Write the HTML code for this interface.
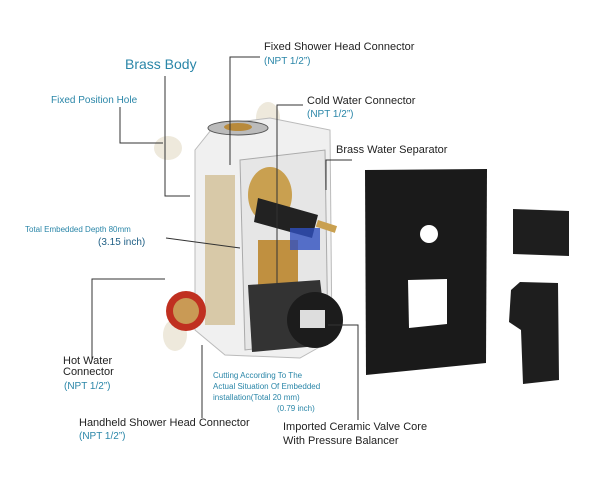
<!DOCTYPE html><html><head><style>body{margin:0;background:#fff}svg{display:block}text{font-family:"Liberation Sans",sans-serif}</style></head><body>
<svg width="612" height="480" viewBox="0 0 612 480" xmlns="http://www.w3.org/2000/svg">
<!-- plastic feet -->
<ellipse cx="168" cy="148" rx="14" ry="12" fill="#eee9dc"/>
<ellipse cx="268" cy="118" rx="12" ry="16" fill="#eee9dc"/>
<ellipse cx="175" cy="335" rx="12" ry="16" fill="#eee9dc"/>
<!-- body -->
<path d="M195 150 L215 125 L270 118 L330 130 L332 340 L300 358 L225 355 L195 330 Z" fill="#f0f0f0" stroke="#bbb"/>
<path d="M240 160 L325 150 L328 340 L245 350 Z" fill="#e6e6e6" stroke="#aaa"/>
<rect x="205" y="175" width="30" height="150" fill="#d8c9a8"/>
<ellipse cx="238" cy="128" rx="30" ry="7" fill="#bbb" stroke="#555"/>
<ellipse cx="238" cy="127" rx="14" ry="4" fill="#b88a3c"/>
<ellipse cx="270" cy="195" rx="22" ry="28" fill="#c9a050"/>
<path d="M258 198 L318 215 L312 238 L254 222 Z" fill="#222"/>
<rect x="318" y="220" width="20" height="7" fill="#c9a050" transform="rotate(18 318 220)"/>
<rect x="258" y="240" width="40" height="60" fill="#c09040"/>
<rect x="290" y="228" width="30" height="22" fill="#3050c0" opacity=".8"/>
<circle cx="186" cy="311" r="20" fill="#c03020"/>
<circle cx="186" cy="311" r="13" fill="#c99a55"/>
<path d="M248 285 L320 280 L328 345 L252 352 Z" fill="#333"/>
<circle cx="315" cy="320" r="28" fill="#1c1c1c"/>
<rect x="300" y="310" width="25" height="18" fill="#ddd"/>
<!-- plate -->
<path d="M365 170 L487 169 L486 363 L366 375 Z" fill="#1a1a1a"/>
<circle cx="429" cy="234" r="9" fill="#fff"/>
<path d="M408 280 L447 279 L447 324 L409 328 Z" fill="#fff"/>
<path d="M513 209 L569 211 L569 256 L513 254 Z" fill="#1e1e1e" rx="4"/>
<path d="M511 290 L520 282 L558 283 L559 380 L523 384 L521 330 L509 322 Z" fill="#1e1e1e"/>
<!-- leader lines -->
<g stroke="#333" stroke-width="1" fill="none">
<path d="M260 57 H230 V165"/>
<path d="M165 76 V196 H190"/>
<path d="M120 107 V143 H163"/>
<path d="M303 105 H277 V292"/>
<path d="M352 160 H326 V190"/>
<path d="M165 279 H92 V360"/>
<path d="M202 418 V345"/>
<path d="M328 325 H358 V420"/>
<path d="M166 238 L240 248"/>
</g>
<g font-size="11" fill="#222">
<text x="264" y="50">Fixed Shower Head Connector</text>
<text x="307" y="104">Cold Water Connector</text>
<text x="336" y="153">Brass Water Separator</text>
<text x="63" y="364">Hot Water</text><text x="63" y="375">Connector</text>
<text x="79" y="426">Handheld Shower Head Connector</text>
<text x="283" y="430">Imported Ceramic Valve Core</text>
<text x="283" y="444">With Pressure Balancer</text>
</g>
<g fill="#2a86a8" font-size="10">
<text x="264" y="64">(NPT 1/2”)</text>
<text x="307" y="117">(NPT 1/2”)</text>
<text x="64" y="389">(NPT 1/2”)</text>
<text x="79" y="439">(NPT 1/2”)</text>
<text x="125" y="69" font-size="14">Brass Body</text>
<text x="51" y="103">Fixed Position Hole</text>
<text x="25" y="232" font-size="8">Total Embedded Depth 80mm</text>
<text x="98" y="245" fill="#1f5f85">(3.15 inch)</text>
<g font-size="8"><text x="213" y="378">Cutting According To The</text><text x="213" y="389">Actual Situation Of Embedded</text><text x="213" y="400">installation(Total 20 mm)</text><text x="277" y="411">(0.79 inch)</text></g>
</g>
</svg></body></html>
